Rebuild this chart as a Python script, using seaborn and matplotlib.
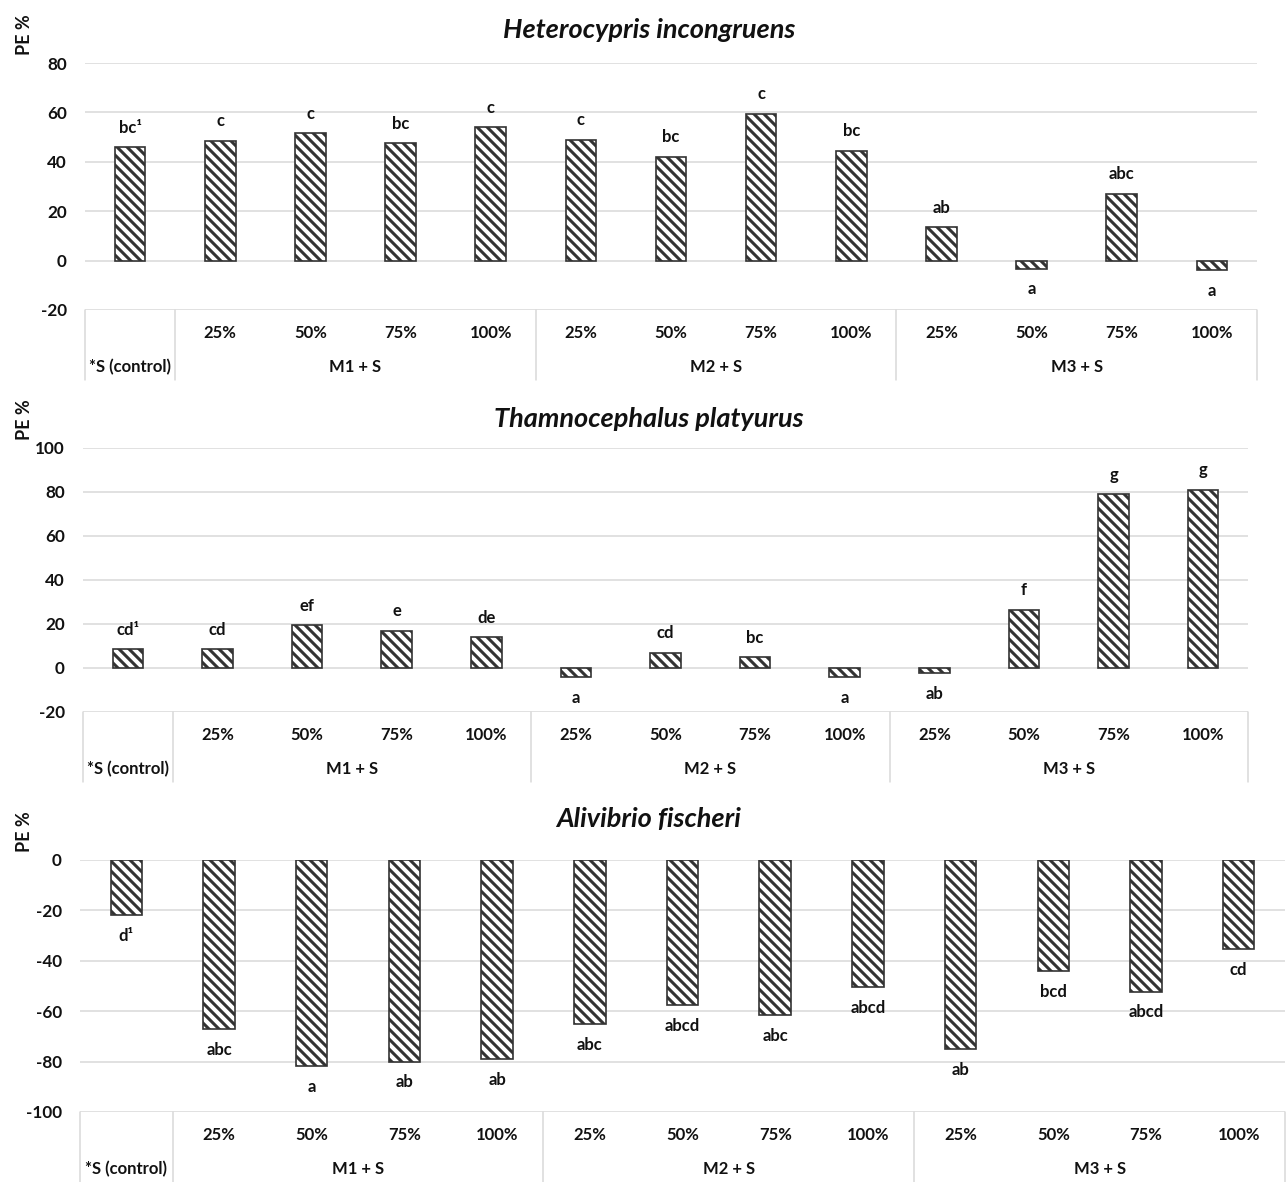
"""PE % bar charts for the three test organisms."""

import matplotlib

matplotlib.use("Agg")

import matplotlib.pyplot as plt
import matplotlib.transforms as mtransforms
import pandas as pd
import seaborn as sns

# 120 dpi so that the "\\\\" hatch gets roughly the stripe spacing of the original
W, H, DPI = 1287, 1182, 120
S = 100 / DPI  # sizes below were tuned as points at 100 dpi

# --- data -----------------------------------------------------------------
CATEGORIES = [
    "S", "M1 25%", "M1 50%", "M1 75%", "M1 100%",
    "M2 25%", "M2 50%", "M2 75%", "M2 100%",
    "M3 25%", "M3 50%", "M3 75%", "M3 100%",
]
PERCENT_LABELS = ["", "25%", "50%", "75%", "100%",
                  "25%", "50%", "75%", "100%",
                  "25%", "50%", "75%", "100%"]
GROUP_LABELS = ["*S (control)", "M1 + S", "M2 + S", "M3 + S"]
GROUP_MEMBERS = [["S"],
                 ["M1 25%", "M1 50%", "M1 75%", "M1 100%"],
                 ["M2 25%", "M2 50%", "M2 75%", "M2 100%"],
                 ["M3 25%", "M3 50%", "M3 75%", "M3 100%"]]

HETERO_PE = [46, 48.5, 51.5, 47.5, 54, 49, 42, 59.5, 44.5, 13.5, -3.2, 27, -4]
HETERO_LETTERS = ["bc¹", "c", "c", "bc", "c", "c", "bc", "c", "bc",
                  "ab", "a", "abc", "a"]

THAMNO_PE = [8.5, 8.5, 19.5, 17, 14, -4, 7, 4.8, -4, -2.2, 26.5, 79, 81]
THAMNO_LETTERS = ["cd¹", "cd", "ef", "e", "de", "a", "cd", "bc", "a",
                  "ab", "f", "g", "g"]

ALIVIB_PE = [-22, -67.2, -81.7, -80, -79, -65, -57.5, -61.5, -50.5,
             -75, -44, -52.2, -35.5]
ALIVIB_LETTERS = ["d¹", "abc", "a", "ab", "ab", "abc", "abcd", "abc",
                  "abcd", "ab", "bcd", "abcd", "cd"]

EDGE = "#333333"
GRID = "#d9d9d9"
TEXT = "#111111"

sns.set_theme(style="white")
plt.rcParams["font.family"] = ["Lato", "DejaVu Sans"]
plt.rcParams["axes.unicode_minus"] = False
plt.rcParams["hatch.linewidth"] = 2.2 * S
plt.rcParams["hatch.color"] = EDGE

fig = plt.figure(figsize=(W / DPI, H / DPI), dpi=DPI)


def px_rect(left, right, top, bottom):
    return [left / W, 1 - bottom / H, (right - left) / W, (bottom - top) / H]


def draw_panel(box, title, title_y, values, letters, ylim):
    left, right, top, bottom = box
    ax = fig.add_axes(px_rect(left, right, top, bottom))
    df = pd.DataFrame({"cat": CATEGORIES, "pe": values})
    sns.barplot(data=df, x="cat", y="pe", order=CATEGORIES, color="white",
                saturation=1, edgecolor=EDGE, linewidth=1.2 * S,
                hatch="\\\\\\\\", width=0.34, ax=ax)

    ax.set_ylim(*ylim)
    ax.set_yticks(range(ylim[0], ylim[1] + 1, 20))
    ax.set_xlim(-0.5, len(CATEGORIES) - 0.5)
    ax.yaxis.grid(True, color=GRID, lw=1.1 * S)
    ax.set_axisbelow(True)
    for s in ax.spines.values():
        s.set_visible(False)
    ax.set_xlabel("")
    ax.set_ylabel("")
    ax.set_xticks([])
    ax.tick_params(axis="y", length=0, pad=13 * S, labelsize=12.3 * S,
                   labelcolor=TEXT)
    for lab in ax.get_yticklabels():
        lab.set_fontweight("bold")

    # significance letters at the bar ends
    for bar, letter in zip(ax.patches, letters):
        x = bar.get_x() + bar.get_width() / 2
        end = bar.get_y() + bar.get_height()
        off = (14 if end >= 0 else -15) * S
        ax.annotate(letter, (x, end), xytext=(0, off), textcoords="offset points",
                    ha="center", va="center", fontsize=12 * S,
                    fontweight="bold", color=TEXT)

    # table-style category axis
    h_px = bottom - top
    trans = mtransforms.blended_transform_factory(ax.transData, ax.transAxes)
    pos = {c: i for i, c in enumerate(CATEGORIES)}
    edges = [pos[m[0]] - 0.5 for m in GROUP_MEMBERS] + [len(CATEGORIES) - 0.5]
    for xe in edges:
        ax.plot([xe, xe], [0, -70 / h_px], color=GRID, lw=1.1 * S,
                transform=trans, clip_on=False)
    for c, lab in zip(CATEGORIES, PERCENT_LABELS):
        ax.text(pos[c], -23 / h_px, lab, transform=trans, ha="center",
                va="center", fontsize=12 * S, fontweight="bold", color=TEXT)
    for members, lab in zip(GROUP_MEMBERS, GROUP_LABELS):
        xc = sum(pos[m] for m in members) / len(members)
        ax.text(xc, -57 / h_px, lab, transform=trans, ha="center",
                va="center", fontsize=12 * S, fontweight="bold", color=TEXT)

    fig.text(649 / W, 1 - title_y / H, title, ha="center", va="center",
             fontsize=19.5 * S, fontweight="bold", fontstyle="italic",
             color=TEXT)
    fig.text(25 / W, 1 - (top - 28) / H, "PE %", rotation=90, ha="center",
             va="center", fontsize=13 * S, fontweight="bold", color=TEXT)
    return ax


draw_panel((85, 1257, 63, 310), "Heterocypris incongruens", 30,
           HETERO_PE, HETERO_LETTERS, (-20, 80))
draw_panel((83, 1248, 448, 712), "Thamnocephalus platyurus", 419,
           THAMNO_PE, THAMNO_LETTERS, (-20, 100))
draw_panel((80, 1285, 860, 1112), "Alivibrio fischeri", 819,
           ALIVIB_PE, ALIVIB_LETTERS, (-100, 0))

fig.savefig("out.png", dpi=DPI)
